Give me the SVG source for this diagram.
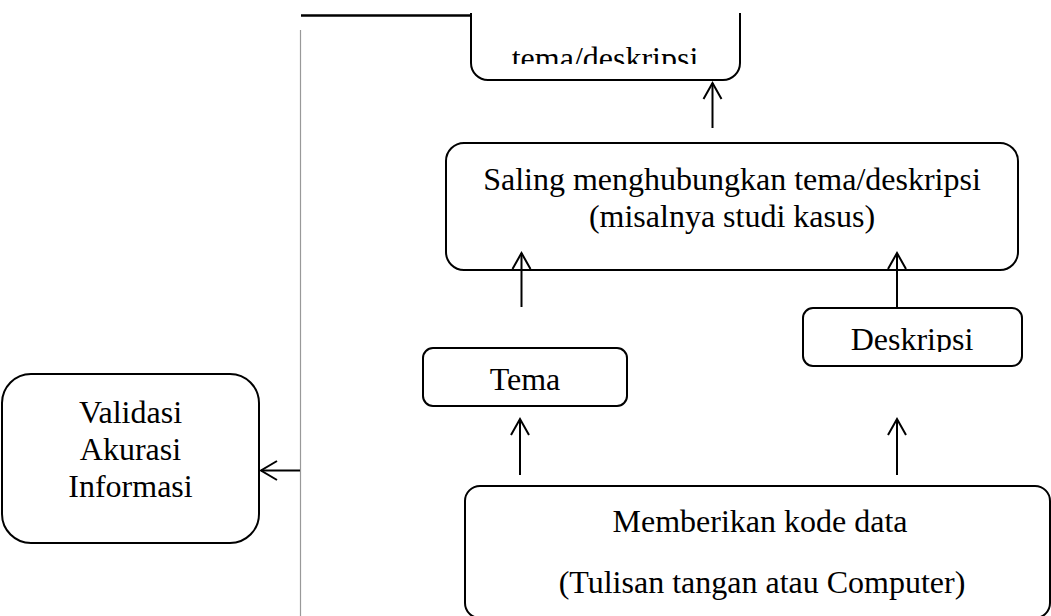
<svg xmlns="http://www.w3.org/2000/svg" width="1051" height="616" viewBox="0 0 1051 616">
<style>
.box{fill:#ffffff;stroke:#000000;stroke-width:2}
.t{font-family:"Liberation Serif","Times New Roman",serif;font-size:32px;fill:#000000;text-anchor:middle}
.c{fill:none;stroke:#000000;stroke-width:2}
.ah{fill:none;stroke:#000000;stroke-width:2;stroke-linejoin:miter}
</style>
<defs>
<clipPath id="clipTop"><rect x="472" y="13" width="267" height="51"/></clipPath>
<clipPath id="clipDesk"><rect x="804" y="309" width="217" height="43"/></clipPath>
</defs>
<rect width="1051" height="616" fill="#ffffff"/>
<g id="node-top">
<path class="c" d="M471,13 V63 A17,17 0 0 0 488,80 H723 A17,17 0 0 0 740,63 V13"/>
<g clip-path="url(#clipTop)"><text class="t" x="605" y="69">tema/deskripsi</text></g>
</g>
<g id="node-saling">
<rect class="box" x="446" y="143" width="572" height="127" rx="18" ry="18"/>
<text class="t" x="732" y="190">Saling menghubungkan tema/deskripsi</text>
<text class="t" x="732" y="227">(misalnya studi kasus)</text>
</g>
<g id="node-tema">
<rect class="box" x="423" y="348" width="204" height="58" rx="10" ry="10"/>
<text class="t" x="525" y="390">Tema</text>
</g>
<g id="node-deskripsi">
<rect class="box" x="803" y="308" width="219" height="58" rx="10" ry="10"/>
<g clip-path="url(#clipDesk)"><text class="t" x="912" y="350">Deskripsi</text></g>
</g>
<g id="node-validasi">
<rect class="box" x="2" y="374" width="257" height="169" rx="29" ry="29"/>
<text class="t" x="130.5" y="423">Validasi</text>
<text class="t" x="130.5" y="460">Akurasi</text>
<text class="t" x="130.5" y="497">Informasi</text>
</g>
<g id="node-kode">
<rect class="box" x="465" y="486" width="585" height="132" rx="15" ry="15"/>
<text class="t" x="760" y="532">Memberikan kode data</text>
<text class="t" x="762" y="593">(Tulisan tangan atau Computer)</text>
</g>
<g id="connectors">
<line x1="301" y1="15.5" x2="471" y2="15.5" stroke="#000" stroke-width="2.5"/>
<line x1="300.5" y1="30" x2="300.5" y2="616" stroke="#999999" stroke-width="1.2"/>
<line class="c" x1="300" y1="470.5" x2="261" y2="470.5"/>
<path class="ah" d="M277,461 L261,470.5 L277,480"/>
<line class="c" x1="712.5" y1="128" x2="712.5" y2="83"/>
<path class="ah" d="M703.5,99 L712.5,83 L721.5,99"/>
<line class="c" x1="521.5" y1="307" x2="521.5" y2="253"/>
<path class="ah" d="M512.5,269 L521.5,253 L530.5,269"/>
<line class="c" x1="897" y1="308" x2="897" y2="253"/>
<path class="ah" d="M888,269 L897,253 L906,269"/>
<line class="c" x1="520" y1="475" x2="520" y2="419"/>
<path class="ah" d="M511,435 L520,419 L529,435"/>
<line class="c" x1="897" y1="475" x2="897" y2="419"/>
<path class="ah" d="M888,435 L897,419 L906,435"/>
</g>
</svg>
